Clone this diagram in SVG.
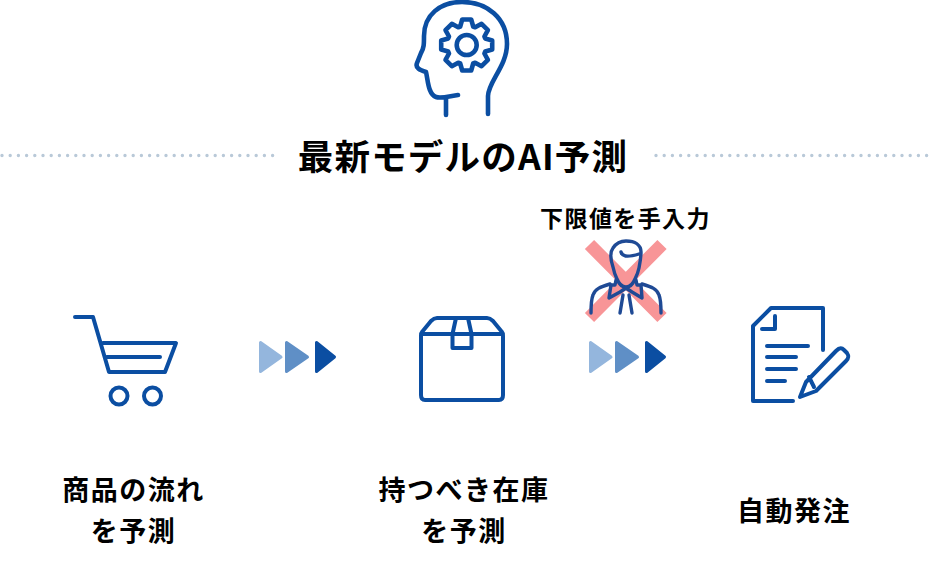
<svg xmlns="http://www.w3.org/2000/svg" width="932" height="568" viewBox="0 0 932 568">
<style>
.i{fill:none;stroke:#0b4ea2;stroke-width:4;stroke-linecap:round;stroke-linejoin:round}
.h{stroke-width:4.600}
.p{fill:none;stroke:#1f4a95;stroke-width:3.400;stroke-linecap:round;stroke-linejoin:round}
.t{font-family:"Noto Sans CJK JP","Noto Sans",sans-serif;font-weight:700;fill:#000;text-anchor:middle}
.l{font-size:27px;letter-spacing:1.500px}
.dot{fill:none;stroke:#b9c9d8;stroke-width:3.400;stroke-linecap:round;stroke-dasharray:0 8.2}
.a1{fill:#94b6dd;stroke:#94b6dd}.a2{fill:#5f8fc6;stroke:#5f8fc6}.a3{fill:#0b4ea2;stroke:#0b4ea2}
.tri{stroke-width:3;stroke-linejoin:round}
</style>
<defs>
<g id="arrows">
<path class="tri a1" d="M1.500 1.500V30.500L22 16Z"/>
<path class="tri a2" d="M27.500 1.500V30.500L48.500 16Z"/>
<path class="tri a3" d="M57.500 1.500V30.500L75.500 16Z"/>
</g>
</defs>
<g id="head">
<path class="i h" d="M488 114V96C488 82 507 66 507 44C507 18 487 2 462 2C440 2 424 15 424 36C424 44 424 48 421 53L417 63C415 68 420 70 426 72C428 80 428 94 436 97C441 99 450 96 458 95M446 98V115"/>
<path class="i h" transform="translate(466.700 45)" d="M18.500-6.500L25.500-4.500 25.500 4.500 18.500 6.500 17.700 8.500 21.200 14.850 14.850 21.200 8.500 17.700 6.500 18.500 4.500 25.500-4.500 25.500-6.500 18.500-8.500 17.700-14.850 21.200-21.200 14.850-17.700 8.500-18.500 6.500-25.500 4.500-25.500-4.500-18.500-6.500-17.700-8.500-21.200-14.850-14.850-21.200-8.500-17.700-6.500-18.500-4.500-25.500 4.500-25.500 6.500-18.500 8.500-17.700 14.850-21.200 21.200-14.850 17.700-8.500Z"/>
<circle class="i h" cx="466.700" cy="45" r="10"/>
</g>
<g id="title">
<path class="dot" d="M2 155.500H276"/>
<path class="dot" d="M656 155.500H930"/>
<text class="t" x="463" y="170" font-size="35.500" letter-spacing="1.200">最新モデルのAI予測</text>
</g>
<g id="cart">
<path class="i" d="M75 317H93L109 372H165L176 343H103M107 357H160"/>
<circle class="i" cx="119" cy="396" r="8.500"/>
<circle class="i" cx="152.500" cy="396" r="8.500"/>
<text class="t l" x="133.500" y="500">商品の流れ</text>
<text class="t l" x="133.500" y="541">を予測</text>
</g>
<g id="box">
<path class="i" d="M421 336C421 334 421 333 422 332L431 321C433 319 434 318 437 318H487C490 318 491 319 493 321L502 332C503 333 503 334 503 336V395C503 398 502 400 499 400H425C422 400 421 398 421 395ZM421 334H503M456 318L452.500 334V348H471.500V334L468 318"/>
<text class="t l" x="464" y="500">持つべき在庫</text>
<text class="t l" x="464" y="541">を予測</text>
</g>
<g id="order">
<path class="i" d="M793 401H753V326L771 308H823V350M775 316V329H762M767 346H808M767 357H796M767 369H796M767 381H785"/>
<path class="i" d="M800 397L806 382L836 351C839 348 841 347 844 350L847 353C849 356 849 358 846 361L816 391ZM809 377L814 387"/>
<text class="t l" x="794" y="521">自動発注</text>
</g>
<g id="manual">
<text class="t" x="625.500" y="227" font-size="23" letter-spacing="1.400">下限値を手入力</text>
<path d="M589.500 244.500L662 317.500M662 244.500L589.500 317.500" fill="none" stroke="#f89597" stroke-width="13"/>
<path class="p" d="M613 267C610 258 610 252 613 248C617 242 621 241 626 241C635 241 641 245 641 252C641 258 640 263 639 268C638 273 637 275 635 279C633 284 630 287 626 287C622 287 619 284 617 279C615 275 614 272 613 267Z"/>
<path class="p" d="M621 252C622 256 626 258 639 254"/>
<path class="p" d="M591 313C591 305 591 300 593 295C595 289 600 287 610 284M661 313C661 305 661 300 659 295C657 289 652 287 642 284"/>
<path class="p" d="M616 280L615 285L611 285L609 298L620 292L626 288L632 292L642 298L641 285L637 285L636 280"/>
<path class="p" d="M623 295L620 313M629 295L632 313"/>
</g>
<g id="connectors">
<use href="#arrows" x="259" y="341"/>
<use href="#arrows" x="589" y="341"/>
</g>
</svg>
